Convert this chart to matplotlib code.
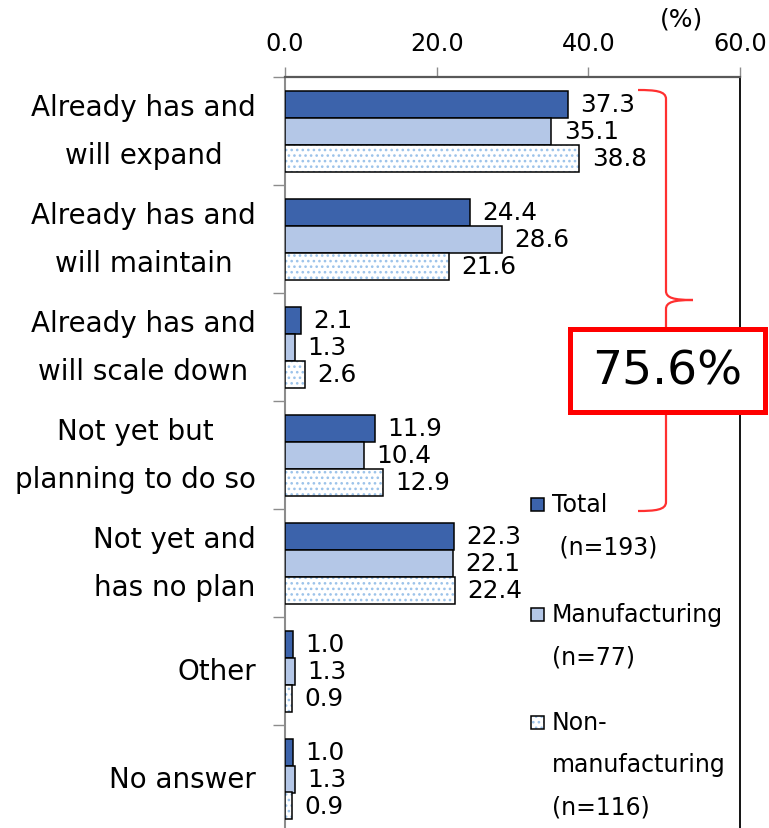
import numpy as np
import matplotlib.pyplot as plt
from matplotlib.patches import Rectangle, PathPatch
from matplotlib.path import Path

categories = [
    "Already has and\nwill expand",
    "Already has and\nwill maintain",
    "Already has and\nwill scale down",
    "Not yet but\nplanning to do so",
    "Not yet and\nhas no plan",
    "Other",
    "No answer",
]
total = [37.3, 24.4, 2.1, 11.9, 22.3, 1.0, 1.0]
manufacturing = [35.1, 28.6, 1.3, 10.4, 22.1, 1.3, 1.3]
non_manufacturing = [38.8, 21.6, 2.6, 12.9, 22.4, 0.9, 0.9]

series_labels = ["Total\n (n=193)", "Manufacturing\n(n=77)", "Non-\nmanufacturing\n(n=116)"]
x_ticks = [0, 20, 40, 60]
share_label = "75.6%"

W, H = 769, 829
fig = plt.figure(figsize=(W / 100, H / 100), dpi=100)
ax = fig.add_axes([285 / W, 1 - 834 / H, 455 / W, 756 / H])

c_total = "#3C63AB"
c_manu = "#B4C7E7"
c_dots = "#9CC3EA"
plt.rcParams["hatch.linewidth"] = 1.1

y = np.arange(len(categories))
h = 0.25
ax.barh(y - h, total, height=h, color=c_total, edgecolor="black", linewidth=1.1, zorder=3)
ax.barh(y, manufacturing, height=h, color=c_manu, edgecolor="black", linewidth=1.1, zorder=3)
# dotted fill first (hatch takes the edge colour), then the black outline on top
ax.barh(y + h, non_manufacturing, height=h, facecolor="white", edgecolor=c_dots,
        hatch="...", linewidth=0, zorder=3)
ax.barh(y + h, non_manufacturing, height=h, facecolor="none", edgecolor="black",
        linewidth=1.1, zorder=3)

for vals, off in [(total, -h), (manufacturing, 0), (non_manufacturing, h)]:
    for i, v in enumerate(vals):
        ax.annotate(f"{v:.1f}", (v, i + off), xytext=(9, 0), textcoords="offset points",
                    va="center", ha="left", fontsize=17.8)

ax.set_xlim(0, 60)
ax.set_ylim(len(categories) - 0.5, -0.5)
ax.xaxis.tick_top()
ax.set_xticks(x_ticks)
ax.set_xticklabels([f"{t:.1f}" for t in x_ticks], fontsize=17.3)
ax.tick_params(axis="x", direction="out", length=7, width=1, color="#8C8C8C", pad=9)

ax.set_yticks(y)
ax.set_yticklabels(categories, fontsize=20, ha="right", va="center",
                   multialignment="center", linespacing=1.9)
ax.tick_params(axis="y", which="major", length=0, pad=21)
ax.set_yticks(np.arange(len(categories) + 1) - 0.5, minor=True)
ax.tick_params(axis="y", which="minor", direction="out", length=9, width=1, color="#8C8C8C")

ax.spines["bottom"].set_visible(False)
ax.spines["left"].set_color("#8C8C8C")
ax.spines["left"].set_linewidth(1.5)
ax.spines["top"].set_color("#595959")
ax.spines["top"].set_linewidth(1.6)
ax.spines["right"].set_color("black")
ax.spines["right"].set_linewidth(1.3)

fig.text(681 / W, 1 - 20 / H, "(%)", ha="center", va="center", fontsize=18)


def px(xp, yp):
    return (xp / W, 1 - yp / H)


# red curly brace spanning the "already has" groups
verts = [px(638, 91), px(655, 91), px(666, 92), px(666, 100),
         px(666, 292),
         px(666, 299), px(674, 301), px(693, 301),
         px(674, 301), px(666, 303), px(666, 310),
         px(666, 503),
         px(666, 511), px(655, 512), px(638, 512)]
codes = [Path.MOVETO, Path.CURVE4, Path.CURVE4, Path.CURVE4,
         Path.LINETO,
         Path.CURVE4, Path.CURVE4, Path.CURVE4,
         Path.CURVE4, Path.CURVE4, Path.CURVE4,
         Path.LINETO,
         Path.CURVE4, Path.CURVE4, Path.CURVE4]
fig.add_artist(PathPatch(Path(verts, codes), transform=fig.transFigure,
                         facecolor="none", edgecolor="#FF3030", linewidth=1.6, zorder=5))

fig.add_artist(Rectangle(px(569.5, 412.5), 195 / W, 83 / H, transform=fig.transFigure,
                         facecolor="white", edgecolor="#FF0000", linewidth=3.6, zorder=6))
fig.text(667 / W, 1 - 372 / H, share_label, ha="center", va="center", fontsize=34, zorder=7)

# legend drawn by hand so the multi-line labels sit like the original
leg_y = [505, 615, 723]
leg_fill = [c_total, c_manu, None]
for ly, lab, fc in zip(leg_y, series_labels, leg_fill):
    if fc is None:
        fig.add_artist(Rectangle(px(531, ly + 7), 13 / W, 13 / H, transform=fig.transFigure,
                                 facecolor="white", edgecolor=c_dots, hatch="...",
                                 linewidth=0, zorder=4))
        fc = "none"
    fig.add_artist(Rectangle(px(531, ly + 7), 13 / W, 13 / H, transform=fig.transFigure,
                             facecolor=fc, edgecolor="black", linewidth=1.1, zorder=4))
    fig.text(552 / W, 1 - (ly - 12) / H, lab, ha="left", va="top", fontsize=17,
             linespacing=1.95, zorder=4)

fig.savefig("out.png", dpi=100)
